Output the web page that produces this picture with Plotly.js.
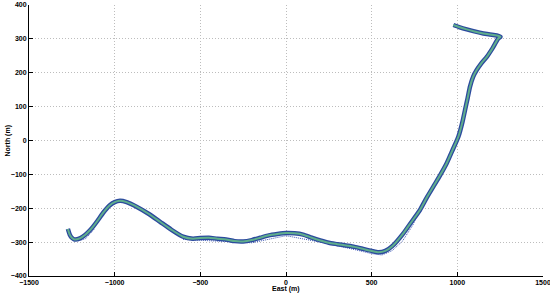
<!DOCTYPE html>
<html><head><meta charset="utf-8">
<script src="https://cdn.plot.ly/plotly-3.0.1.min.js"></script>
<style>html,body{margin:0;padding:0;background:#fff}#c{width:550px;height:294px}</style>
</head><body><div id="c"></div>
<script>
// Trajectory (East, North) in metres
const east = [-1273,-1262,-1250,-1235,-1200,-1173,-1150,-1127,-1100,-1068,-1030,-1000,-969,-930,-870,-800,-735,-670,-601,-543,-500,-450,-400,-350,-300,-250,-200,-150,-100,-50,0,50,100,150,200,250,300,350,400,450,500,540,580,620,685,730,782,820,860,900,938,975,1006,1030,1045,1060,1074,1092,1113,1140,1172,1205,1239,1252,1230,1190,1152,1100,1055,1010,977];
const north = [-261,-278,-287,-292,-288,-279,-268,-255,-237,-214,-192,-182,-178,-182,-196,-217,-240,-263,-284,-290,-288,-287,-290,-292,-297,-298,-294,-287,-280,-276,-273,-274,-278,-287,-295,-302,-306,-310,-314,-320,-326,-330,-326,-312,-274,-242,-205,-170,-136,-102,-67,-25,11,55,90,125,159,188,208,228,247,272,301,306,310,313,316,322,328,335,341];
// Scattered ensemble members (dotted)
const eastB = [-1250,-1210,-1170,-1140,-1120,null,-600,-400,-200,0,200,400,500,560,620,680,740,780,830,880,930,980];
const northB = [-290,-296,-290,-275,-262,null,-292,-296,-302,-281,-300,-322,-334,-338,-325,-297,-250,-205,-160,-120,-75,-30];
const xTicks = [-1500,-1000,-500,0,500,1000,1500];
const yTicks = [-400,-300,-200,-100,0,100,200,300,400];
const fmt = v => v < 0 ? '\u2212' + Math.abs(v) : String(v);

const traces = [
  {x: eastB, y: northB, mode: 'lines', connectgaps: false, line: {color: '#3a55b5', width: 1, dash: '1px,1px'}, hoverinfo: 'skip'},
  {x: east, y: north, mode: 'lines', line: {color: '#2c4a9e', width: 4.5, shape: 'spline', smoothing: 0.6}, hoverinfo: 'skip'},
  {x: east, y: north, mode: 'lines', line: {color: '#5fae8c', width: 2, shape: 'spline', smoothing: 0.6}, hoverinfo: 'skip'}
];
const font = {family: 'Liberation Sans, Arial, sans-serif', size: 7, color: '#000', weight: 'bold'};
const grid = {showgrid: true, gridcolor: '#bdbdbd', griddash: '1px,2px', gridwidth: 1};
const layout = {
  width: 550, height: 294,
  margin: {l: 29, r: 7, t: 5, b: 18},
  showlegend: false,
  paper_bgcolor: '#fff', plot_bgcolor: '#fff',
  font: font,
  xaxis: Object.assign({
    range: [-1500, 1500], tickvals: xTicks, ticktext: xTicks.map(fmt),
    showline: true, linecolor: '#000', linewidth: 1, mirror: false,
    ticks: 'inside', ticklen: 4, tickcolor: '#000', ticklabeloverflow: 'allow',
    zeroline: false, tickfont: font
  }, grid),
  yaxis: Object.assign({
    range: [-400, 400], tickvals: yTicks, ticktext: yTicks.map(fmt),
    showline: true, linecolor: '#000', linewidth: 1, mirror: false,
    ticks: 'inside', ticklen: 4, tickcolor: '#000', ticklabeloverflow: 'allow',
    zeroline: false, tickfont: font
  }, grid),
  annotations: [
    {text: 'East (m)', xref: 'paper', yref: 'paper', x: 0.5, y: 0, yshift: -13, xanchor: 'center', yanchor: 'middle', showarrow: false, font: font},
    {text: 'North (m)', xref: 'paper', yref: 'paper', x: 0, y: 0.5, xshift: -22, xanchor: 'center', yanchor: 'middle', textangle: -90, showarrow: false, font: font}
  ]
};
Plotly.newPlot('c', traces, layout, {staticPlot: true, displayModeBar: false});
</script></body></html>
